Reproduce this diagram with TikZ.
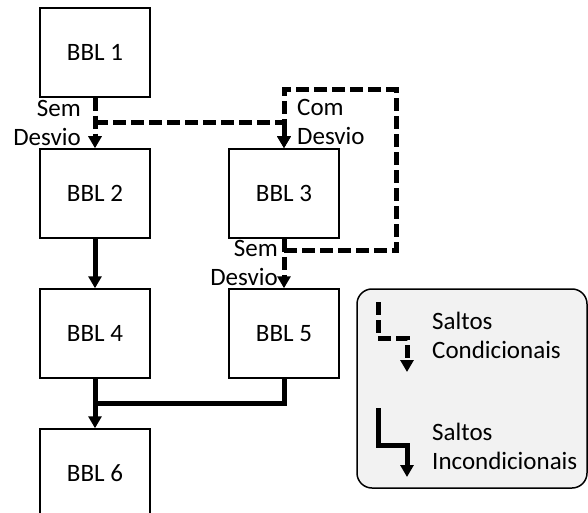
\documentclass[tikz,border=0pt]{standalone}
\usepackage{fontspec}
\setmainfont{Carlito}
\usetikzlibrary{arrows.meta,calc}
\tikzset{
  bbl/.style = {draw, line width=1.5bp, minimum width=110bp, minimum height=89bp, inner sep=0pt,
    font=\fontsize{25bp}{29bp}\selectfont},
  lbl/.style = {inner sep=0pt, font=\fontsize{25bp}{29bp}\selectfont},
  jump/.style = {line width=5bp, -{Triangle[width=13bp,length=12bp]}},
  condjump/.style = {jump, dash pattern=on 13bp off 5bp},
}

\begin{document}
\begin{tikzpicture}[x=1bp,y=-1bp]
  \useasboundingbox (0,0) rectangle (588,513);
  % blocks
  \node[bbl] (b1) at (95,52.5) {BBL 1};
  \node[bbl] (b2) at (95,193.5) {BBL 2};
  \node[bbl] (b3) at (284,193.5) {BBL 3};
  \node[bbl] (b4) at (95,333.5) {BBL 4};
  \node[bbl] (b5) at (284,333.5) {BBL 5};
  \node[bbl] (b6) at (95,473.5) {BBL 6};
  % conditional jumps
  \draw[condjump] (b1.south) -- (b2.north);
  \draw[condjump] ($(b1.south)!0.5!(b2.north)$) -| (b3.north);
  \draw[condjump] (b3.south) -- (b5.north);
  \draw[condjump] ($(b3.south)+(0,12)$) -| ++(112,-161) -| (b3.north);
  \node[lbl,align=right,anchor=east] (sem1) at (81,123) {Sem\\Desvio};
  \node[lbl,align=left,anchor=west] (com) at (297,122) {Com\\Desvio};
  \node[lbl,align=right,anchor=east] (sem2) at (278,263) {Sem\\Desvio};
  % unconditional jumps
  \draw[jump] (b2.south) -- (b4.north);
  \draw[jump] (b4.south) -- (b6.north);
  \draw[line width=5bp] (b5.south) |- ($(b4.south)!0.5!(b6.north)$);
  % legend
  \node[draw, line width=1.5bp, rounded corners=15bp, fill=gray!10, minimum width=230bp,
    minimum height=199bp] (legend) at (472,388.5) {};
  \coordinate (c1) at (378,302);
  \coordinate (c2) at (378,408);
  \draw[condjump] (c1) |- ++(29,36) -- ++(0,34);
  \draw[jump] (c2) |- ++(29,37) -- ++(0,32);
  \node[lbl,align=left,anchor=west] (cond) at (432,335) {Saltos\\Condicionais};
  \node[lbl,align=left,anchor=west] (incond) at (432,446) {Saltos\\Incondicionais};
\end{tikzpicture}
\end{document}
